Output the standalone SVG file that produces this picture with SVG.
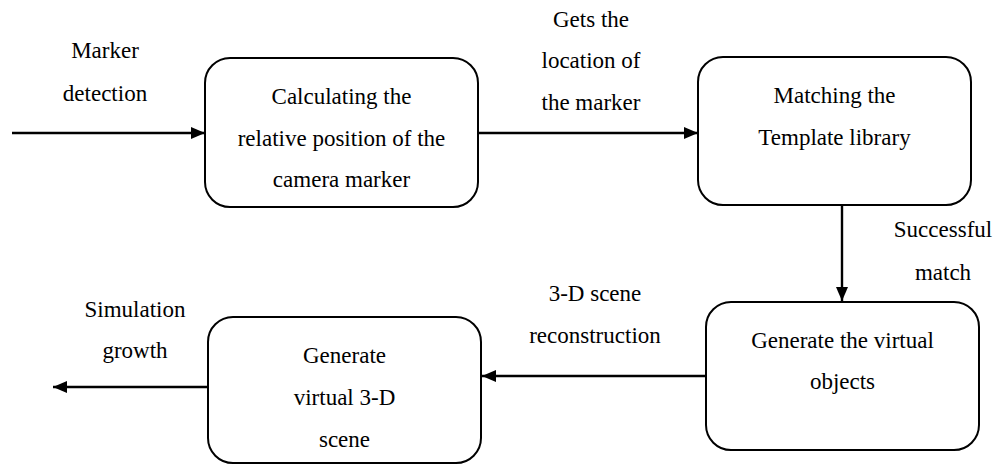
<svg xmlns="http://www.w3.org/2000/svg" width="998" height="464" viewBox="0 0 998 464">
<style>
.box{fill:#fff;stroke:#000;stroke-width:2}
.c{stroke:#000;stroke-width:2.4;fill:none}
</style>
<defs>
<marker id="ah" viewBox="0 0 14 12" refX="14" refY="6" markerWidth="14" markerHeight="12" markerUnits="userSpaceOnUse" orient="auto">
<path d="M0,0 L14,6 L0,12 Z" fill="#000"/>
</marker>
</defs>
<rect width="998" height="464" fill="#fff"/>
<g font-family="Liberation Serif, Times New Roman, serif" font-size="23" fill="#000" text-anchor="middle">
<g id="connectors">
<line class="c" x1="12" y1="133" x2="205" y2="133" marker-end="url(#ah)"/>
<line class="c" x1="478" y1="133" x2="698" y2="133" marker-end="url(#ah)"/>
<line class="c" x1="842" y1="203" x2="842" y2="301" marker-end="url(#ah)"/>
<line class="c" x1="706" y1="376" x2="482" y2="376" marker-end="url(#ah)"/>
<line class="c" x1="208" y1="387" x2="53" y2="387" marker-end="url(#ah)"/>
<text x="105" y="58">Marker</text>
<text x="105" y="101">detection</text>
<text x="591" y="27">Gets the</text>
<text x="591" y="68">location of</text>
<text x="591" y="110">the marker</text>
<text x="943" y="237">Successful</text>
<text x="943" y="280">match</text>
<text x="595" y="301">3-D scene</text>
<text x="595" y="343">reconstruction</text>
<text x="135" y="317">Simulation</text>
<text x="135" y="358">growth</text>
</g>
<g id="node-calc">
<rect class="box" x="205" y="58" width="273" height="149" rx="25"/>
<text x="341.5" y="104">Calculating the</text>
<text x="341.5" y="146">relative position of the</text>
<text x="341.5" y="187">camera marker</text>
</g>
<g id="node-match">
<rect class="box" x="698" y="57" width="273" height="148" rx="25"/>
<text x="834.5" y="103">Matching the</text>
<text x="834.5" y="145">Template library</text>
</g>
<g id="node-objects">
<rect class="box" x="706" y="302" width="273" height="148" rx="25"/>
<text x="842.5" y="348">Generate the virtual</text>
<text x="842.5" y="389">objects</text>
</g>
<g id="node-scene">
<rect class="box" x="208" y="317" width="273" height="146" rx="25"/>
<text x="344.5" y="363">Generate</text>
<text x="344.5" y="405">virtual 3-D</text>
<text x="344.5" y="447">scene</text>
</g>
</g>
</svg>
